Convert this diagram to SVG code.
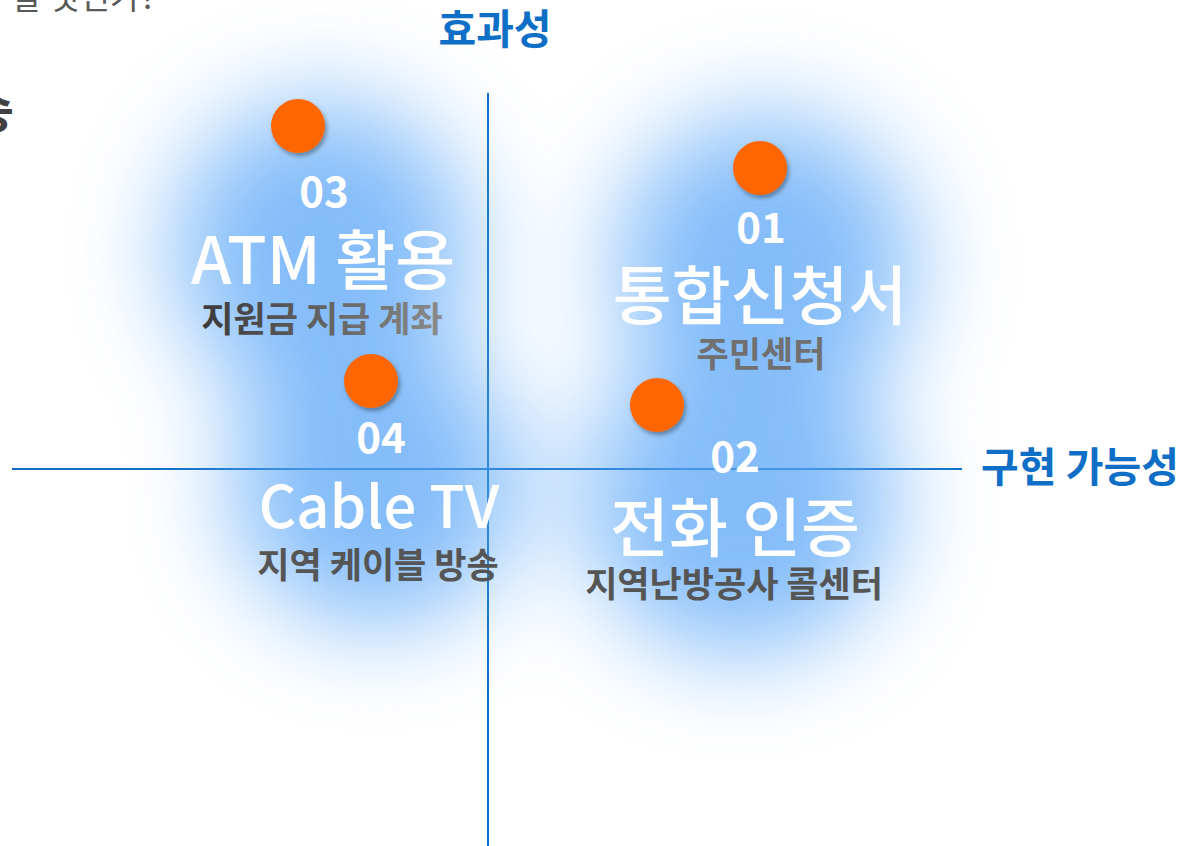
<svg xmlns="http://www.w3.org/2000/svg" width="1199" height="846" viewBox="0 0 1199 846">
<style>
text{font-family:"Noto Sans CJK KR","Noto Sans",sans-serif;}
.num{font-size:42px;font-weight:700;fill:#ffffff;text-anchor:middle;}
.title{font-size:64px;font-weight:500;fill:#ffffff;text-anchor:middle;}
.sub{font-size:35px;font-weight:700;fill:#555555;text-anchor:middle;}
.axis-label{font-size:41px;font-weight:700;fill:#0F6FC6;}
.axis{stroke:#0F6FC6;stroke-width:2;fill:none;}
.dot{fill:#FF6600;filter:url(#shadow);}
</style>
<defs>
<filter id="glow" x="-50%" y="-50%" width="200%" height="200%">
<feGaussianBlur stdDeviation="50"/>
</filter>
<filter id="shadow" x="-50%" y="-50%" width="200%" height="200%">
<feDropShadow dx="2" dy="3" stdDeviation="2" flood-color="#000" flood-opacity="0.35"/>
</filter>
<linearGradient id="subgrad" x1="0" y1="0" x2="1" y2="0">
<stop offset="0" stop-color="#3a3a3a"/>
<stop offset="1" stop-color="#8a8a8a"/>
</linearGradient>
</defs>
<rect width="1199" height="846" fill="#ffffff"/>
<g id="connectors">
<line class="axis" x1="488" y1="93" x2="488" y2="846"/>
<line class="axis" x1="12" y1="469" x2="962" y2="469"/>
</g>
<g id="glows" filter="url(#glow)" opacity="0.74" fill="#59A5F8">
<circle cx="322" cy="250" r="150"/>
<circle cx="765" cy="265" r="150"/>
<circle cx="376" cy="482" r="145"/>
<circle cx="740" cy="500" r="155"/>
</g>
<g id="header">
<text x="156" y="9" font-size="33" fill="#595959" text-anchor="end">할 것인가?</text>
<text x="14" y="128" font-size="48" font-weight="700" fill="#404040" text-anchor="end">승</text>
</g>
<g id="axis-labels">
<text class="axis-label" x="495" y="44" text-anchor="middle">효과성</text>
<text class="axis-label" x="981" y="482">구현 가능성</text>
</g>
<g id="node-03">
<circle class="dot" cx="298" cy="126" r="27"/>
<text class="num" x="324" y="207">03</text>
<text class="title" x="323" y="284" style="font-size:65px">ATM 활용</text>
<text class="sub" x="322" y="332" style="fill:url(#subgrad)">지원금 지급 계좌</text>
</g>
<g id="node-01">
<circle class="dot" cx="760" cy="168" r="27"/>
<text class="num" x="761" y="243">01</text>
<text class="title" x="760" y="319">통합신청서</text>
<text class="sub" x="761" y="367" style="fill:#707070">주민센터</text>
</g>
<g id="node-04">
<circle class="dot" cx="371" cy="381" r="27"/>
<text class="num" x="381" y="453">04</text>
<text class="title" x="379" y="528" style="font-size:58px">Cable TV</text>
<text class="sub" x="378" y="578">지역 케이블 방송</text>
</g>
<g id="node-02">
<circle class="dot" cx="657" cy="405" r="27"/>
<text class="num" x="735" y="472">02</text>
<text class="title" x="735" y="551">전화 인증</text>
<text class="sub" x="734" y="597">지역난방공사 콜센터</text>
</g>
</svg>
